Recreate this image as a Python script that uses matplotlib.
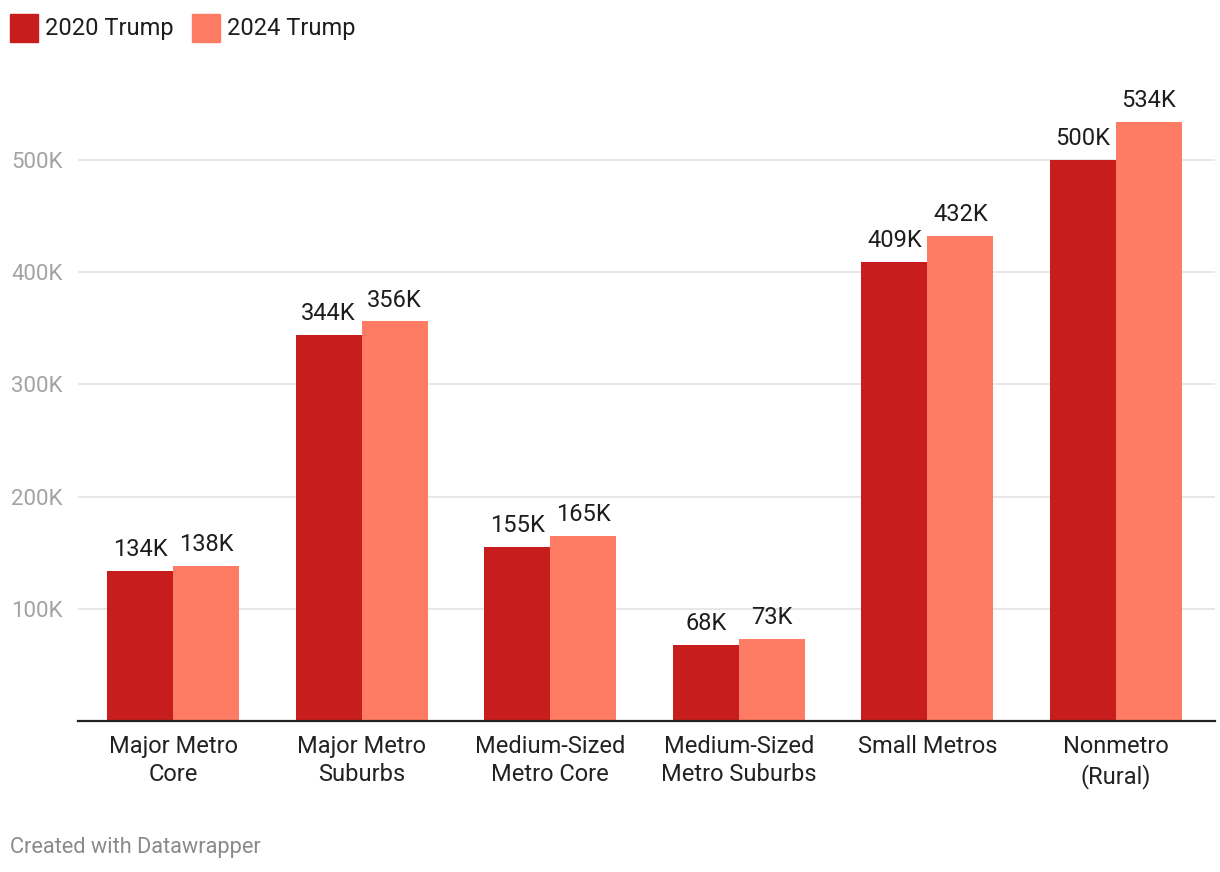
import numpy as np
import matplotlib
matplotlib.use("Agg")
import matplotlib.pyplot as plt
from matplotlib.patches import Rectangle

categories = ["Major Metro\nCore", "Major Metro\nSuburbs", "Medium-Sized\nMetro Core",
              "Medium-Sized\nMetro Suburbs", "Small Metros", "Nonmetro\n(Rural)"]
trump_2020 = [134, 344, 155, 68, 409, 500]
trump_2024 = [138, 356, 165, 73, 432, 534]
series_names = ["2020 Trump", "2024 Trump"]
colors = ["#c71e1d", "#ff7c64"]

plt.rcParams['font.family'] = ['Roboto', 'DejaVu Sans']

fig = plt.figure(figsize=(12.2, 8.72), dpi=100)
ax = fig.add_axes([0.0639, 0.1732, 0.932, 0.7348])

x = np.arange(len(categories))
w = 0.35
for vals, off, col in [(trump_2020, -w / 2, colors[0]), (trump_2024, w / 2, colors[1])]:
    bars = ax.bar(x + off, vals, width=w, color=col, zorder=2)
    for b, v in zip(bars, vals):
        ax.annotate(f"{v}K", (b.get_x() + b.get_width() / 2, v), xytext=(0, 7),
                    textcoords="offset points", ha="center", va="bottom",
                    fontsize=17, color="#1d1d1d")

ax.set_xlim(-0.504, 5.525)
ax.set_ylim(0, 571)
ax.set_yticks([100, 200, 300, 400, 500])
ax.set_yticklabels(["100K", "200K", "300K", "400K", "500K"])
ax.grid(axis="y", color="#e3e3e3", linewidth=1.2, zorder=0)
ax.set_axisbelow(True)
ax.tick_params(axis="y", length=0, pad=11, labelsize=16, labelcolor="#a3a3a3")
ax.set_xticks(x)
ax.set_xticklabels(categories, fontsize=17, color="#222222", linespacing=1.3)
ax.tick_params(axis="x", length=0, pad=10)
for s in ["top", "right", "left"]:
    ax.spines[s].set_visible(False)
ax.spines["bottom"].set_color("#222222")
ax.spines["bottom"].set_linewidth(1.6)
ax.spines["bottom"].set_zorder(3)

# legend
for i, (name, col) in enumerate(zip(series_names, colors)):
    x0 = [10, 192][i]
    fig.add_artist(Rectangle((x0 / 1220, 1 - 42 / 872), 28 / 1220, 28 / 872,
                             transform=fig.transFigure, color=col))
    fig.text((x0 + 35) / 1220, 1 - 28 / 872, name, fontsize=17, color="#1d1d1d",
             va="center", ha="left")

fig.text(10 / 1220, 1 - 847 / 872, "Created with Datawrapper", fontsize=15.7,
         color="#8a8a8a", va="center", ha="left")

fig.savefig("out.png", dpi=100, facecolor="white")
